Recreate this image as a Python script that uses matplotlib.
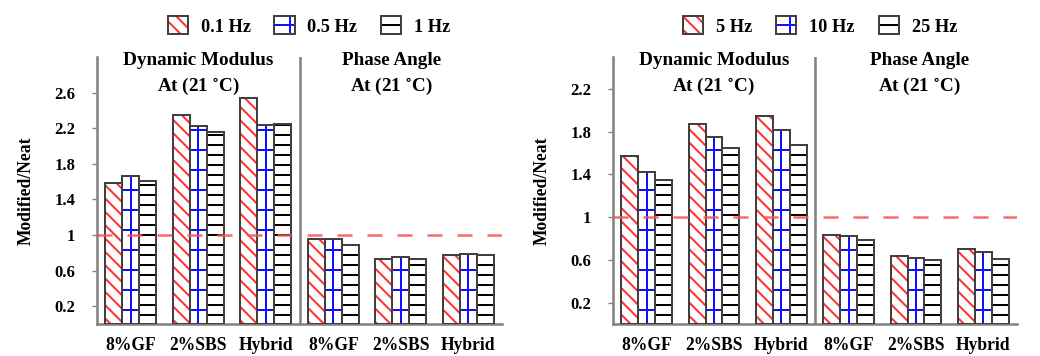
import numpy as np
import matplotlib
matplotlib.use("Agg")
import matplotlib.pyplot as plt
from matplotlib.patches import Patch
from matplotlib.legend_handler import HandlerTuple

plt.rcParams["font.family"] = ["Liberation Serif", "DejaVu Serif"]
plt.rcParams["font.weight"] = "bold"
plt.rcParams["mathtext.fontset"] = "stix"
plt.rcParams["hatch.linewidth"] = 1.2

categories = ["8%GF", "2%SBS", "Hybrid", "8%GF", "2%SBS", "Hybrid"]

# left panel: low frequencies
left_labels = ["0.1 Hz", "0.5 Hz", "1 Hz"]
left_f01 = [1.58, 2.35, 2.54, 0.95, 0.73, 0.78]
left_f05 = [1.66, 2.23, 2.24, 0.96, 0.75, 0.79]
left_f1 = [1.61, 2.16, 2.25, 0.89, 0.73, 0.77]
left_yticks = [0.2, 0.6, 1.0, 1.4, 1.8, 2.2, 2.6]

# right panel: high frequencies
right_labels = ["5 Hz", "10 Hz", "25 Hz"]
right_f5 = [1.57, 1.87, 1.95, 0.83, 0.64, 0.70]
right_f10 = [1.42, 1.75, 1.82, 0.82, 0.62, 0.67]
right_f25 = [1.35, 1.65, 1.68, 0.79, 0.60, 0.61]
right_yticks = [0.2, 0.6, 1.0, 1.4, 1.8, 2.2]

# hatch, hatch colour, draw a centre line (grid look)
hatch_styles = [("\\\\\\", "#ff3030", False), ("-", "#1010ff", True), ("--", "black", False)]
edge = "#404040"
spine_c = "#808080"

fig = plt.figure(figsize=(1040 / 120, 356 / 120), dpi=120)


def tick_fmt(v):
    return "1" if v == 1 else f"{v:.1f}"


def panel(rect, series, labels, yticks, ymax, phase_x, leg_x):
    ax = fig.add_axes(rect)
    x = np.arange(len(categories))
    w = 0.25
    handles = []
    for i, (vals, (h, hc, mid)) in enumerate(zip(series, hatch_styles)):
        pos = x + (i - 1) * w
        ax.bar(pos, vals, w, color="white", edgecolor=hc, hatch=h, lw=0, zorder=2)
        if mid:
            ax.vlines(pos, 0, vals, color=hc, lw=1.2, zorder=2.5)
        ax.bar(pos, vals, w, color="none", edgecolor=edge, lw=1.2, zorder=3)
        hh = (Patch(facecolor="white", edgecolor=hc, hatch=h + ("+" if mid else ""), lw=0),
              Patch(facecolor="none", edgecolor=edge, lw=1.2))
        handles.append(hh)
    ax.axhline(1, color="#ff5050", lw=1.5, ls=(0, (6, 6)), alpha=0.85, zorder=4)
    ax.axvline(2.5, color=spine_c, lw=1.5, zorder=1)
    ax.set_xlim(-0.5, 5.5)
    ax.set_ylim(0, ymax)
    ax.set_xticks(x)
    ax.set_xticklabels(categories, fontsize=10.5, fontweight="bold")
    ax.set_yticks(yticks)
    ax.set_yticklabels([tick_fmt(v) for v in yticks], fontsize=10, fontweight="bold")
    ax.tick_params(axis="x", length=0, pad=8)
    ax.tick_params(axis="y", length=3, color=spine_c, pad=10)
    for s in ["top", "right"]:
        ax.spines[s].set_visible(False)
    for s in ["left", "bottom"]:
        ax.spines[s].set_color(spine_c)
        ax.spines[s].set_linewidth(1.5)
    ax.text(1.0, 1.02, "Dynamic Modulus\nAt (21 $^{\\circ}$C)", transform=ax.get_xaxis_transform(),
            ha="center", va="top", fontsize=11.5, fontweight="bold", linespacing=1.45)
    ax.text(phase_x, 1.02, "Phase Angle\nAt (21 $^{\\circ}$C)", transform=ax.get_xaxis_transform(),
            ha="center", va="top", fontsize=11.5, fontweight="bold", linespacing=1.45)
    fig.text(rect[0] - 71 / 1040, rect[1] + rect[3] / 2, "Modified/Neat", rotation=90,
             ha="center", va="center", fontsize=10.5, fontweight="bold")
    fig.legend(handles, labels, handler_map={tuple: HandlerTuple(ndivide=1, pad=0)},
               loc="center", bbox_to_anchor=(leg_x, 1 - 26 / 356), ncol=3, frameon=False,
               handlelength=1.1, handleheight=1.1, handletextpad=0.7, columnspacing=1.3,
               prop={"size": 11, "weight": "bold"})
    return ax


ax_b = 32 / 356
ax_h = (324 - 57) / 356
panel([97 / 1040, ax_b, 405 / 1040, ax_h], [left_f01, left_f05, left_f1],
      left_labels, left_yticks, 3.0, 3.87, 309 / 1040)
panel([613 / 1040, ax_b, 404 / 1040, ax_h], [right_f5, right_f10, right_f25],
      right_labels, right_yticks, 2.5, 4.05, 820 / 1040)

fig.savefig("out.png", dpi=120)
